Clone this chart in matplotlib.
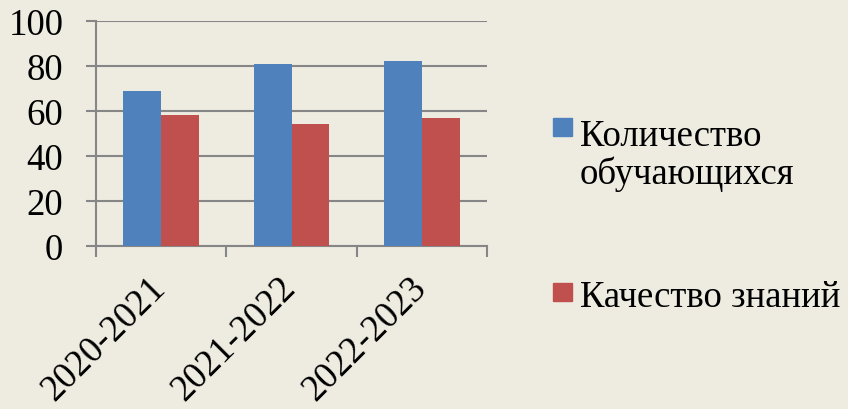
import matplotlib.pyplot as plt
from matplotlib.patches import Rectangle
from matplotlib.transforms import ScaledTranslation
import numpy as np

# chart data
years = ['2020-2021', '2021-2022', '2022-2023']
students = [69, 81, 82]
quality = [58, 54, 57]
series_names = ['Количество\nобучающихся', 'Качество знаний']
colors = ['#4F81BD', '#C0504D']

bg = '#EEECE1'
grid_col = '#868686'
fs = 26.5
plt.rcParams['font.family'] = ['Liberation Serif', 'DejaVu Serif']

fig = plt.figure(figsize=(8.48, 4.10), dpi=100, facecolor=bg)
ax = fig.add_axes([0.1132, 0.3976, 0.4611, 0.5488], facecolor=bg)

x = np.arange(len(years))
w = 0.29
ax.bar(x - w / 2, students, w, color=colors[0], zorder=3)
ax.bar(x + w / 2, quality, w, color=colors[1], zorder=3)

ax.set_xlim(-0.5, len(years) - 0.5)
ax.set_ylim(0, 100)
ax.set_yticks(range(0, 101, 20))
ax.yaxis.grid(True, color=grid_col, linewidth=1.5, zorder=0)
for s in ['top', 'right']:
    ax.spines[s].set_visible(False)
for s in ['left', 'bottom']:
    ax.spines[s].set_color(grid_col)
    ax.spines[s].set_linewidth(1.5)

ax.tick_params(axis='y', length=7.5, width=1.5, color=grid_col, pad=16, labelsize=fs)
ax.set_xticks(x)
ax.set_xticklabels(years, rotation=45, ha='right', va='top', rotation_mode='anchor', fontsize=fs)
ax.tick_params(axis='x', which='major', length=0, pad=8)
ax.set_xticks(np.arange(-0.5, len(years), 1), minor=True)
ax.tick_params(axis='x', which='minor', length=8, width=1.5, color=grid_col)
shift = ScaledTranslation(-13 / 100, -13 / 100, fig.dpi_scale_trans)
for lab in ax.get_xticklabels():
    lab.set_transform(lab.get_transform() + shift)

# legend drawn by hand to mimic the office layout
W, H = 848, 410
legend_rows = [(119, 184), (284, 307)]
for (top, base), name, c in zip(legend_rows, series_names, colors):
    fig.patches.append(Rectangle((553 / W, 1 - (top + 18) / H), 19 / W, 18 / H,
                                 transform=fig.transFigure, color=c))
    fig.text(580 / W, 1 - base / H, name, fontsize=fs, va='baseline', ha='left',
             linespacing=1.1)

plt.savefig('out.png', dpi=100, facecolor=bg)
